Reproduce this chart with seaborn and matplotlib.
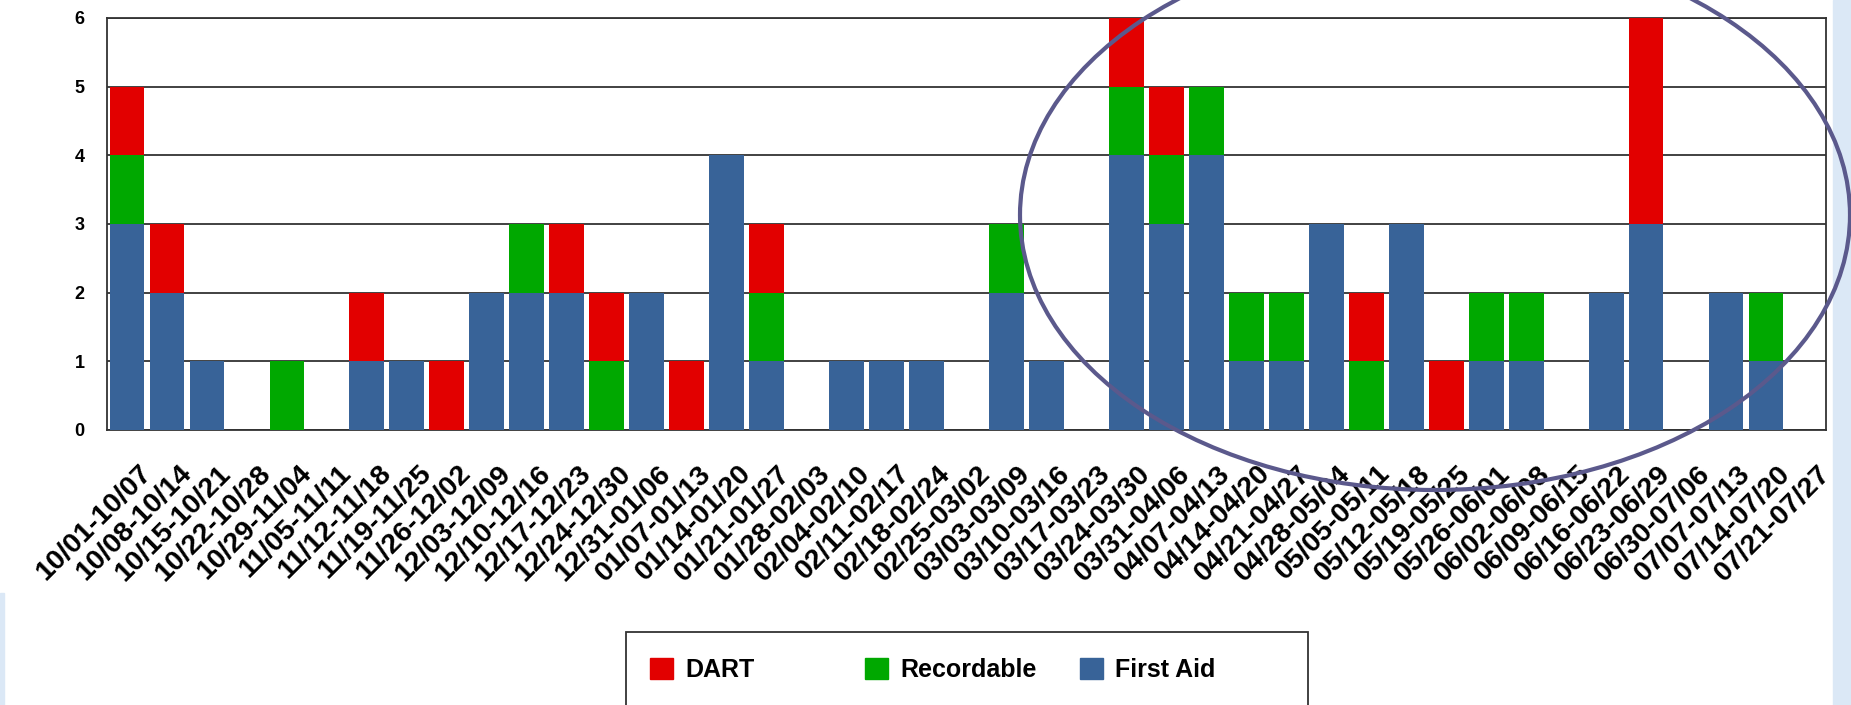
import pandas as pd
import seaborn as sns
import matplotlib.pyplot as plt
from matplotlib.patches import Ellipse, Rectangle, Patch
from matplotlib.transforms import ScaledTranslation

""" 0. data """
weeks = ['10/01-10/07', '10/08-10/14', '10/15-10/21', '10/22-10/28', '10/29-11/04',
         '11/05-11/11', '11/12-11/18', '11/19-11/25', '11/26-12/02', '12/03-12/09',
         '12/10-12/16', '12/17-12/23', '12/24-12/30', '12/31-01/06', '01/07-01/13',
         '01/14-01/20', '01/21-01/27', '01/28-02/03', '02/04-02/10', '02/11-02/17',
         '02/18-02/24', '02/25-03/02', '03/03-03/09', '03/10-03/16', '03/17-03/23',
         '03/24-03/30', '03/31-04/06', '04/07-04/13', '04/14-04/20', '04/21-04/27',
         '04/28-05/04', '05/05-05/11', '05/12-05/18', '05/19-05/25', '05/26-06/01',
         '06/02-06/08', '06/09-06/15', '06/16-06/22', '06/23-06/29', '06/30-07/06',
         '07/07-07/13', '07/14-07/20', '07/21-07/27']
first_aid  = [3, 2, 1, 0, 0, 0, 1, 1, 0, 2, 2, 2, 0, 2, 0, 4, 1, 0, 1, 1, 1, 0,
              2, 1, 0, 4, 3, 4, 1, 1, 3, 0, 3, 0, 1, 1, 0, 2, 3, 0, 2, 1, 0]
recordable = [1, 0, 0, 0, 1, 0, 0, 0, 0, 0, 1, 0, 1, 0, 0, 0, 1, 0, 0, 0, 0, 0,
              1, 0, 0, 1, 1, 1, 1, 1, 0, 1, 0, 0, 1, 1, 0, 0, 0, 0, 0, 1, 0]
dart       = [1, 1, 0, 0, 0, 0, 1, 0, 1, 0, 0, 1, 1, 0, 1, 0, 1, 0, 0, 0, 0, 0,
              0, 0, 0, 1, 1, 0, 0, 0, 0, 1, 0, 1, 0, 0, 0, 0, 3, 0, 0, 0, 0]
series = ['DART', 'Recordable', 'First Aid']

df = pd.DataFrame({'week': weeks, 'First Aid': first_aid,
                   'Recordable': recordable, 'DART': dart})
# stacked: plot cumulative tops, largest first
df['top_fa'] = df['First Aid']
df['top_rec'] = df['top_fa'] + df['Recordable']
df['top_dart'] = df['top_rec'] + df['DART']

c_red = '#e20000'
c_green = '#00a800'
c_blue = '#386398'

""" 1. plot """
plt.rcParams['font.family'] = ['Liberation Sans', 'DejaVu Sans']
W, H = 1851, 705
fig = plt.figure(figsize=(W / 100, H / 100), dpi=100)
ax = fig.add_axes([107 / W, 1 - 430 / H, (1826 - 107) / W, (430 - 18) / H])

for col, c in [('top_dart', c_red), ('top_rec', c_green), ('top_fa', c_blue)]:
    sns.barplot(x='week', y=col, data=df, color=c, width=0.87, linewidth=0,
                saturation=1, ax=ax, zorder=3)

ax.set_ylim(0, 6)
ax.set_yticks(range(0, 7))
ax.yaxis.grid(True, color='#333333', linewidth=1.3, zorder=0)
ax.set_axisbelow(True)
for s in ax.spines.values():
    s.set_color('#333333')
    s.set_linewidth(1.3)
ax.set_xlabel('')
ax.set_ylabel('')
ax.tick_params(axis='y', length=0, pad=16, labelsize=13)
for t in ax.get_yticklabels():
    t.set_fontweight('bold')
ax.tick_params(axis='x', length=0, pad=22)
ax.set_xticks(range(len(weeks)))
ax.set_xticklabels(weeks, rotation=45, ha='right', va='top',
                   rotation_mode='anchor', fontsize=20.5, fontweight='bold')
shift = ScaledTranslation(0.11, 0, fig.dpi_scale_trans)
for t in ax.get_xticklabels():
    t.set_transform(t.get_transform() + shift)

# legend: framed box with equal-width columns (one legend per entry)
fig.add_artist(Rectangle((626 / W, -0.05), (1308 - 626) / W, 1 - 632 / H + 0.05,
                         transform=fig.transFigure, facecolor='white',
                         edgecolor='#333333', linewidth=1.3, zorder=4))
for name, c, x0 in zip(series, [c_red, c_green, c_blue], [650, 865, 1080]):
    fig.legend(handles=[Patch(color=c, label=name)], loc='center left',
               bbox_to_anchor=(x0 / W, 1 - 670 / H), borderaxespad=0,
               borderpad=0, frameon=False, prop={'weight': 'bold', 'size': 18},
               handlelength=0.9, handleheight=0.9, handletextpad=0.5)

# slide decoration: light blue strips and the highlight ellipse
fig.add_artist(Rectangle((1833 / W, 0), 18 / W, 1, transform=fig.transFigure,
                         color='#dbe8f6', zorder=0))
fig.add_artist(Rectangle((0, 0), 4 / W, 112 / H, transform=fig.transFigure,
                         color='#dbe8f6', zorder=0))
fig.add_artist(Ellipse((14.35, 4.90), 8.3, 5.5, transform=fig.dpi_scale_trans,
                       fill=False, edgecolor='#5b598c', linewidth=3, zorder=10))

fig.savefig('out.png', dpi=100)
